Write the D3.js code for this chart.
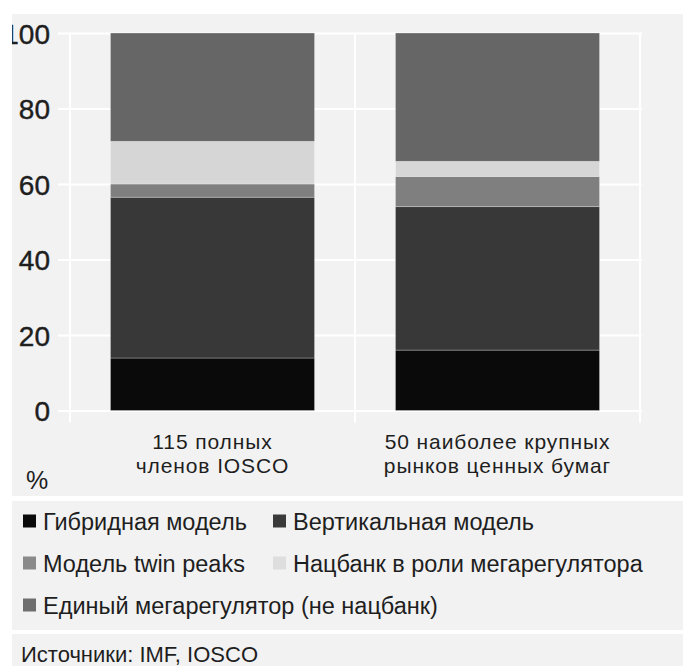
<!DOCTYPE html>
<meta charset="utf-8">
<body style="margin:0;background:#fff">
<script src="https://d3js.org/d3.v7.min.js"></script>
<div id="chart"></div>
<script>
// data: shares of regulatory models, %
const categories = ["115 полных\nчленов IOSCO", "50 наиболее крупных\nрынков ценных бумаг"];
const seriesNames = ["Гибридная модель", "Вертикальная модель", "Модель twin peaks",
                     "Нацбанк в роли мегарегулятора", "Единый мегарегулятор (не нацбанк)"];
const hybrid   = [13.9, 16];
const vertical = [42.6, 38];
const twinPeaks = [3.5, 8];
const natBank  = [11.3, 4];
const single   = [28.7, 34];
const yTicks = [0, 20, 40, 60, 80, 100];
const colors = ["#0a0a0a", "#383838", "#7f7f7f", "#d6d6d6", "#666666"];
const swatchColors = ["#0a0a0a", "#3a3a3a", "#8a8a8a", "#dedede", "#6e6e6e"];

const W = 683, H = 666;
const font = "'Liberation Sans', Arial, sans-serif";
const ink = "#1e1e1e";

const svg = d3.select("#chart").append("svg")
    .attr("width", W).attr("height", H)
    .style("display", "block")
    .style("font-family", font);

// panels
svg.append("rect").attr("x", 12).attr("y", 14).attr("width", W - 12).attr("height", 482).attr("fill", "#f2f2f2");
svg.append("rect").attr("x", 12).attr("y", 501).attr("width", W - 12).attr("height", 129).attr("fill", "#f2f2f2");
svg.append("rect").attr("x", 12).attr("y", 634).attr("width", W - 12).attr("height", 32).attr("fill", "#f2f2f2");

const table = categories.map((c, i) => ({
    cat: c, s0: hybrid[i], s1: vertical[i], s2: twinPeaks[i], s3: natBank[i], s4: single[i]
}));
const stack = d3.stack().keys(["s0", "s1", "s2", "s3", "s4"])(table);

const y = d3.scaleLinear().domain([0, 100]).range([410.5, 33]);
const x = d3.scaleBand().domain(categories).range([70, 640])
    .paddingInner(0.284).paddingOuter(0.142);
const xEdge = d3.scaleBand().domain(categories).range([70, 640]);

// gridlines + y labels
const yAxis = svg.append("g")
    .attr("transform", "translate(58,0)")
    .call(d3.axisLeft(y).tickValues(yTicks).tickSizeInner(-584).tickSizeOuter(0).tickPadding(8));
yAxis.select(".domain").remove();
yAxis.selectAll(".tick line").attr("stroke", "#fff").attr("stroke-width", 2);
yAxis.selectAll(".tick text")
    .attr("fill", ink)
    .style("font-size", "28px")
    .style("font-family", font)
    .attr("stroke", ink).attr("stroke-width", 0.4)
    .attr("dy", "0.36em");

// vertical band edges
const edges = categories.map(c => xEdge(c)).concat([xEdge.range()[1]]);
svg.append("g").selectAll("line").data(edges).join("line")
    .attr("x1", d => d).attr("x2", d => d)
    .attr("y1", y(100)).attr("y2", y(0) + 12)
    .attr("stroke", "#fff").attr("stroke-width", 2);

// bars
svg.append("g").selectAll("g").data(stack).join("g")
    .attr("fill", (d, i) => colors[i])
    .selectAll("rect").data(d => d).join("rect")
    .attr("x", d => x(d.data.cat))
    .attr("width", x.bandwidth())
    .attr("y", d => y(d[1]))
    .attr("height", d => y(d[0]) - y(d[1]))
    .attr("stroke", "#ffffff").attr("stroke-opacity", 0.35).attr("stroke-width", 0.8);

// left white margin clips the "100" label
svg.append("rect").attr("x", 0).attr("y", 0).attr("width", 12).attr("height", H).attr("fill", "#fff");

// category labels (two lines each)
categories.forEach(c => {
    c.split("\n").forEach((line, k) => {
        svg.append("text")
            .attr("x", x(c) + x.bandwidth() / 2)
            .attr("y", 449 + k * 24)
            .attr("text-anchor", "middle")
            .attr("fill", ink)
            .style("font-size", "21px")
            .style("letter-spacing", "0.9px")
            .text(line);
    });
});

svg.append("text").attr("x", 26).attr("y", 489).attr("fill", ink)
    .style("font-size", "25px").text("%");

// legend
const legendPos = [[23, 521], [273, 521], [23, 563], [273, 563], [23, 605]];
const lg = svg.append("g").selectAll("g").data(seriesNames).join("g")
    .attr("transform", (d, i) => `translate(${legendPos[i][0]},${legendPos[i][1]})`);
lg.append("rect").attr("x", 0).attr("y", -6.5).attr("width", 13).attr("height", 13)
    .attr("fill", (d, i) => swatchColors[i]);
lg.append("text").attr("x", 20).attr("y", 8.5)
    .attr("fill", ink)
    .style("font-size", "23.5px")
    .text(d => d);

// source
svg.append("text").attr("x", 21).attr("y", 662).attr("fill", ink)
    .style("font-size", "22px").text("Источники: IMF, IOSCO");
</script>
</body>
